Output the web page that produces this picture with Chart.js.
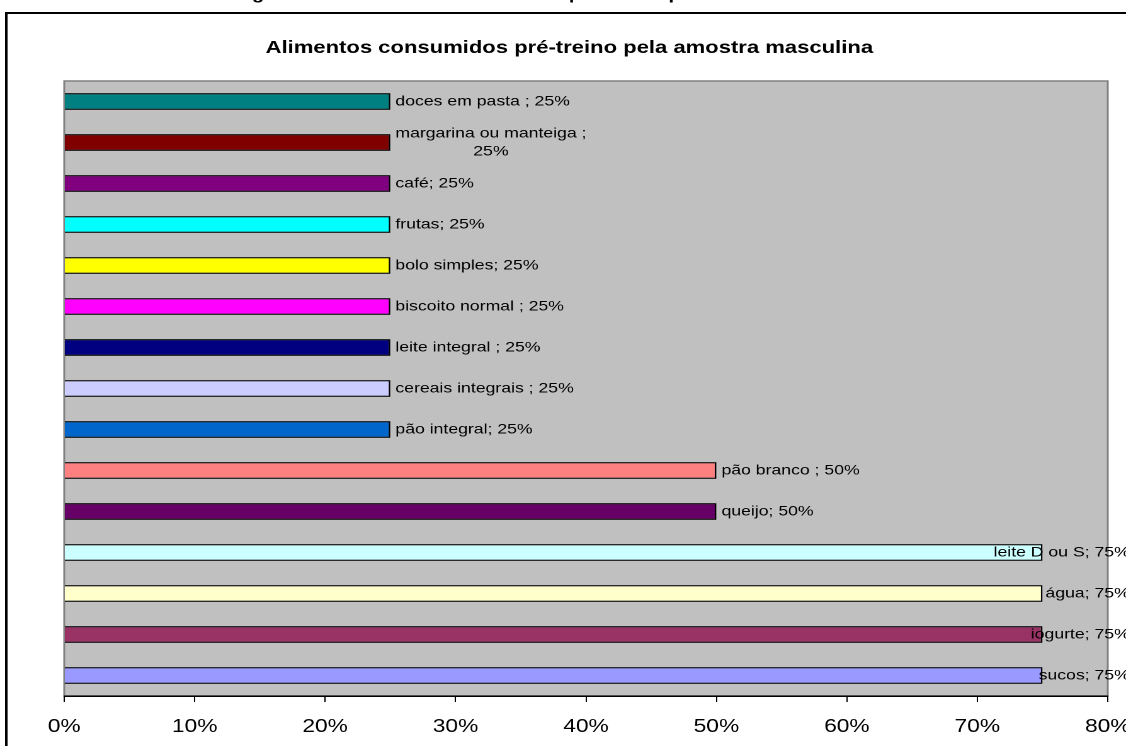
<!DOCTYPE html>
<html>
<head>
<meta charset="utf-8">
<script src="https://cdn.jsdelivr.net/npm/chart.js@4.4.1/dist/chart.umd.min.js"></script>
<style>
  html, body { margin: 0; padding: 0; background: #fff; overflow: hidden; }
  #grafico { position: absolute; left: 0; top: 0; }
</style>
</head>
<body>
<!-- o original esta esticado na horizontal, por isso o canvas e mais estreito que o CSS -->
<canvas id="grafico" width="894" height="746" style="width:1126px;height:746px"></canvas>
<script>
// dados (de cima para baixo)
const categorias = ['doces em pasta', 'margarina ou manteiga', 'café', 'frutas', 'bolo simples',
  'biscoito normal', 'leite integral', 'cereais integrais', 'pão integral', 'pão branco',
  'queijo', 'leite D ou S', 'água', 'iogurte', 'sucos'];
const valores = [25, 25, 25, 25, 25, 25, 25, 25, 25, 50, 50, 75, 75, 75, 75];
const rotulos = [['doces em pasta ; 25%'], ['margarina ou manteiga ;', '25%'], ['café; 25%'],
  ['frutas; 25%'], ['bolo simples; 25%'], ['biscoito normal ; 25%'], ['leite integral ; 25%'],
  ['cereais integrais ; 25%'], ['pão integral; 25%'], ['pão branco ; 50%'], ['queijo; 50%'],
  ['leite D ou S; 75%'], ['água; 75%'], ['iogurte; 75%'], ['sucos; 75%']];
const cores = ['#008080', '#800000', '#800080', '#00FFFF', '#FFFF00', '#FF00FF', '#000080',
  '#CCCCFF', '#0066CC', '#FF8080', '#660066', '#CCFFFF', '#FFFFCC', '#993366', '#9999FF'];
const eixoMax = 80;
const eixoPasso = 10;

const legenda = 'Figura 14 - Alimentos consumidos pré-treino pela amostra masculina';
const titulo = 'Alimentos consumidos pré-treino pela amostra masculina';
const fonte = "'Liberation Sans', Arial, sans-serif";

// fundo, moldura, titulo e rotulos das barras
const moldura = {
    id: 'moldura',
    beforeDraw(chart) {
        const { ctx, chartArea: a } = chart;
        ctx.save();
        ctx.fillStyle = '#fff';
        ctx.fillRect(0, 0, chart.width, chart.height);

        // legenda da figura, quase toda cortada no topo
        ctx.fillStyle = '#000';
        ctx.textAlign = 'center';
        ctx.textBaseline = 'alphabetic';
        ctx.font = 'bold 16px ' + fonte;
        ctx.fillText(legenda, 449, -1);

        ctx.strokeStyle = '#000';
        ctx.lineWidth = 2;
        ctx.strokeRect(5, 13, chart.width + 20, chart.height + 20);

        ctx.font = 'bold 17.5px ' + fonte;
        ctx.fillText(titulo, 452, 53);

        ctx.fillStyle = '#c0c0c0';
        ctx.fillRect(a.left, a.top, a.width, a.height);
        ctx.strokeStyle = '#808080';
        ctx.lineWidth = 1.5;
        ctx.strokeRect(a.left, a.top, a.width, a.height);
        ctx.restore();
    },
    afterDatasetsDraw(chart) {
        const ctx = chart.ctx;
        const barras = chart.getDatasetMeta(0).data;
        ctx.save();
        ctx.font = '14px ' + fonte;
        ctx.fillStyle = '#000';
        ctx.textAlign = 'center';
        ctx.textBaseline = 'middle';
        barras.forEach((b, i) => {
            const linhas = rotulos[i];
            const w = Math.max(...linhas.map(l => ctx.measureText(l).width));
            let x0 = b.x + 4;
            if (x0 + w > chart.width + 3) x0 = chart.width + 3 - w;
            linhas.forEach((l, j) => {
                ctx.fillText(l, x0 + w / 2, b.y + (j - (linhas.length - 1) / 2) * 18);
            });
        });
        ctx.restore();
    }
};

new Chart(document.getElementById('grafico'), {
    type: 'bar',
    data: {
        labels: categorias,
        datasets: [{
            data: valores,
            backgroundColor: cores,
            borderColor: '#000',
            borderWidth: 1.3,
            barPercentage: 0.41,
            categoryPercentage: 1
        }]
    },
    options: {
        indexAxis: 'y',
        responsive: false,
        animation: false,
        devicePixelRatio: 2,
        layout: { padding: { left: 51, top: 81, right: 14.5, bottom: 10 } },
        plugins: { legend: { display: false }, tooltip: { enabled: false } },
        scales: {
            y: { display: false },
            x: {
                min: 0, max: eixoMax,
                ticks: { stepSize: eixoPasso, callback: v => v + '%', color: '#000', padding: 14,
                    font: { family: fonte, size: 18 } },
                grid: { drawOnChartArea: false, drawTicks: true, tickLength: 6, color: '#000' },
                border: { display: true, color: '#000', width: 1.5 },
                afterFit(s) { s.paddingLeft = 0; s.paddingRight = 0; s.height = 40; }
            }
        }
    },
    plugins: [moldura]
});
</script>
</body>
</html>
